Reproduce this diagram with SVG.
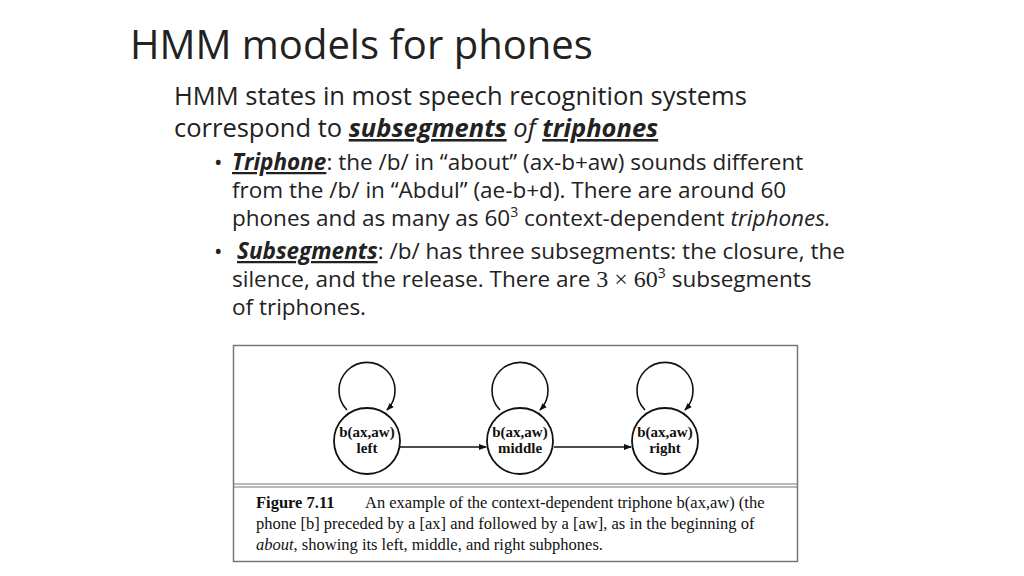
<svg xmlns="http://www.w3.org/2000/svg" width="1024" height="576" viewBox="0 0 1024 576">
<style>
.t{font-family:"Open Sans","Liberation Sans",sans-serif;fill:#222}
.s{font-family:"Liberation Serif",serif;fill:#111}
.n{fill:#fff;stroke:#111;stroke-width:1.8}
.e{fill:none;stroke:#111;stroke-width:1.6}
</style>
<defs><marker id="a" markerWidth="8" markerHeight="8" refX="7" refY="4" orient="auto" markerUnits="userSpaceOnUse"><path d="M0,1 L8,4 L0,7z" fill="#111"/></marker></defs>
<rect width="1024" height="576" fill="#fff"/>
<text class="t" x="130" y="59" font-size="40">HMM models for phones</text>
<text class="t" font-size="25.5"><tspan x="174" y="105">HMM states in most speech recognition systems</tspan><tspan x="174" y="137">correspond to <tspan font-weight="bold" font-style="italic" text-decoration="underline">subsegments</tspan> <tspan font-style="italic">of</tspan> <tspan font-weight="bold" font-style="italic" text-decoration="underline">triphones</tspan></tspan></text>
<text class="t" font-size="22.5">
<tspan x="214" y="170">•</tspan><tspan x="232" y="170"><tspan font-weight="bold" font-style="italic" text-decoration="underline">Triphone</tspan>: the /b/ in “about” (ax-b+aw) sounds different</tspan>
<tspan x="232" y="198">from the /b/ in “Abdul” (ae-b+d).  There are around 60</tspan>
<tspan x="232" y="226">phones and as many as 60<tspan font-size="14" dy="-9">3</tspan><tspan dy="9"> context-dependent </tspan><tspan font-style="italic">triphones.</tspan></tspan>
<tspan x="214" y="259">•</tspan><tspan x="237" y="259"><tspan font-weight="bold" font-style="italic" text-decoration="underline">Subsegments</tspan>: /b/ has three subsegments: the closure, the</tspan>
<tspan x="232" y="287">silence, and the release.  There are <tspan font-family="Liberation Serif,serif" font-size="24">3 × 60</tspan><tspan font-size="14" dy="-9">3</tspan><tspan dy="9"> subsegments</tspan></tspan>
<tspan x="232" y="315">of triphones.</tspan>
</text>
<g id="figure">
<rect x="233.5" y="345.5" width="564" height="216" fill="#fff" stroke="#777" stroke-width="1.5"/>
<line x1="234" y1="484" x2="797" y2="484" stroke="#777" stroke-width="1"/>
<line x1="234" y1="487" x2="797" y2="487" stroke="#777" stroke-width="1"/>
</g>
<g id="connectors">
<path class="e" d="M347,410 A28,28 0 1 1 387,410" marker-end="url(#a)"/>
<path class="e" d="M500,410 A28,28 0 1 1 540,410" marker-end="url(#a)"/>
<path class="e" d="M645,410 A28,28 0 1 1 685,410" marker-end="url(#a)"/>
<line class="e" x1="400" y1="447" x2="486" y2="447" marker-end="url(#a)"/>
<line class="e" x1="554" y1="447" x2="631" y2="447" marker-end="url(#a)"/>
</g>
<g id="left"><circle class="n" cx="367" cy="441" r="33"/><text class="s" font-size="15" font-weight="bold" text-anchor="middle"><tspan x="367" y="437">b(ax,aw)</tspan><tspan x="367" y="453">left</tspan></text></g>
<g id="middle"><circle class="n" cx="520" cy="441" r="33"/><text class="s" font-size="15" font-weight="bold" text-anchor="middle"><tspan x="520" y="437">b(ax,aw)</tspan><tspan x="520" y="453">middle</tspan></text></g>
<g id="right"><circle class="n" cx="665" cy="441" r="33"/><text class="s" font-size="15" font-weight="bold" text-anchor="middle"><tspan x="665" y="437">b(ax,aw)</tspan><tspan x="665" y="453">right</tspan></text></g>
<text class="s" font-size="16.5">
<tspan x="256" y="508" font-weight="bold">Figure 7.11</tspan><tspan x="365" y="508">An example of the context-dependent triphone b(ax,aw) (the</tspan>
<tspan x="256" y="529">phone [b] preceded by a [ax] and followed by a [aw], as in the beginning of</tspan>
<tspan x="256" y="550"><tspan font-style="italic">about</tspan>, showing its left, middle, and right subphones.</tspan>
</text>
</svg>
